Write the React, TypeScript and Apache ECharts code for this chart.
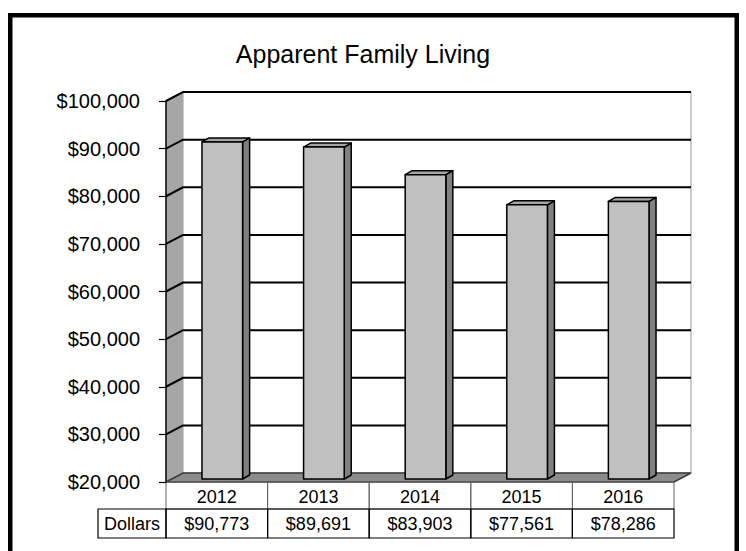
import React, { useEffect, useRef } from "react";
import * as echarts from "echarts";

const title = "Apparent Family Living";
const years = ["2012", "2013", "2014", "2015", "2016"];
const dollars = [90773, 89691, 83903, 77561, 78286];
const rowHeader = "Dollars";
const yMin = 20000;
const yMax = 100000;
const yStep = 10000;

const FONT = "Liberation Sans, Arial, sans-serif";
const fmt = (v: number) => "$" + v.toLocaleString("en-US");

export default function App() {
  const ref = useRef<HTMLDivElement>(null);
  useEffect(() => {
    if (!ref.current) return;
    const chart = echarts.init(ref.current, null, { renderer: "svg" });
    const DX = 17, DY = -9; // wall depth
    const OX = 5.5, OY = -3; // bar front offset
    const BX = 7, BY = -4; // bar depth
    const ROW1 = 27, ROW2 = 29;

    const option: any = {
      animation: false,
      backgroundColor: "#fff",
      grid: { left: 166, right: 72, top: 101, bottom: 69, containLabel: false },
      xAxis: {
        type: "category",
        data: years,
        axisLine: { show: false },
        axisTick: { show: false },
        axisLabel: { show: false },
        splitLine: { show: false },
      },
      yAxis: {
        type: "value",
        min: yMin,
        max: yMax,
        interval: yStep,
        z: 5,
        axisLine: { show: true, lineStyle: { color: "#000", width: 1.5 } },
        axisTick: { show: true, length: 7, lineStyle: { color: "#000", width: 1.2 } },
        axisLabel: {
          formatter: (v: number) => fmt(v),
          fontSize: 20,
          fontFamily: FONT,
          color: "#000",
          margin: 26,
        },
        splitLine: { show: false },
      },
      graphic: [
        {
          type: "rect",
          shape: { x: 10.25, y: 15.25, width: 726.5, height: 560 },
          style: { fill: "none", stroke: "#000", lineWidth: 4.5 },
          z: 10,
        },
        {
          type: "text",
          style: {
            text: title,
            x: 363,
            y: 41,
            textAlign: "center",
            textVerticalAlign: "top",
            fontSize: 25,
            fontFamily: FONT,
            fill: "#000",
          },
        },
      ],
      series: [
        {
          type: "custom",
          name: "walls",
          z: 1,
          clip: false,
          data: [0],
          renderItem: (params: any, api: any) => {
            const cs = params.coordSys;
            const gx = cs.x, gy = cs.y, gw = cs.width, gh = cs.height;
            const children: any[] = [];
            children.push({
              type: "rect",
              shape: { x: gx + DX, y: gy + DY, width: gw, height: gh },
              style: { fill: "#fff", stroke: "#9a9a9a", lineWidth: 1 },
            });
            children.push({
              type: "polygon",
              shape: {
                points: [
                  [gx, gy],
                  [gx + DX, gy + DY],
                  [gx + DX, gy + gh + DY],
                  [gx, gy + gh],
                ],
              },
              style: { fill: "#a6a6a6", stroke: "none" },
            });
            for (let v = yMin + yStep; v <= yMax; v += yStep) {
              const y = api.coord([0, v])[1];
              children.push({
                type: "polyline",
                shape: {
                  points: [
                    [gx, y],
                    [gx + DX, y + DY],
                    [gx + DX + gw, y + DY],
                  ],
                },
                style: { fill: "none", stroke: "#000", lineWidth: 2 },
              });
            }
            children.push({
              type: "polygon",
              shape: {
                points: [
                  [gx, gy + gh],
                  [gx + DX, gy + gh + DY],
                  [gx + gw + DX, gy + gh + DY],
                  [gx + gw, gy + gh],
                ],
              },
              style: { fill: "#8c8c8c", stroke: "#3a3a3a", lineWidth: 1.5 },
            });
            return { type: "group", children };
          },
        },
        {
          type: "custom",
          name: "bars",
          z: 3,
          clip: false,
          data: dollars.map((v, i) => [i, v]),
          encode: { x: 0, y: 1 },
          renderItem: (params: any, api: any) => {
            const i = api.value(0);
            const v = api.value(1);
            const top = api.coord([i, v]);
            const base = api.coord([i, yMin]);
            const w = api.size([1, 0])[0] * 0.4;
            const x0 = top[0] - w / 2 + OX;
            const x1 = x0 + w;
            const yT = top[1] + OY;
            const yB = base[1] + OY;
            const line = { stroke: "#000", lineWidth: 1.5, lineJoin: "round" };
            return {
              type: "group",
              children: [
                {
                  type: "polygon",
                  shape: { points: [[x1, yT], [x1 + BX, yT + BY], [x1 + BX, yB + BY], [x1, yB]] },
                  style: { fill: "#808080", ...line },
                },
                {
                  type: "polygon",
                  shape: { points: [[x0, yT], [x0 + BX, yT + BY], [x1 + BX, yT + BY], [x1, yT]] },
                  style: { fill: "#a6a6a6", ...line },
                },
                {
                  type: "rect",
                  shape: { x: x0, y: yT, width: w, height: yB - yT },
                  style: { fill: "#c0c0c0", ...line },
                },
              ],
            };
          },
        },
        {
          type: "custom",
          name: "table",
          z: 4,
          clip: false,
          data: dollars.map((v, i) => [i, v]),
          encode: { x: 0, y: 1 },
          renderItem: (params: any, api: any) => {
            const cs = params.coordSys;
            const i = api.value(0);
            const v = api.value(1);
            const cx = api.coord([i, yMin])[0];
            const cw = api.size([1, 0])[0];
            const yb = cs.y + cs.height;
            const children: any[] = [
              {
                type: "rect",
                shape: { x: cx - cw / 2, y: yb, width: cw, height: ROW1 },
                style: { fill: "none", stroke: "#666", lineWidth: 1 },
              },
              {
                type: "rect",
                shape: { x: cx - cw / 2, y: yb + ROW1, width: cw, height: ROW2 },
                style: { fill: "none", stroke: "#000", lineWidth: 1.2 },
              },
              {
                type: "text",
                style: {
                  text: years[i],
                  x: cx,
                  y: yb + ROW1 / 2 + 1,
                  textAlign: "center",
                  textVerticalAlign: "middle",
                  fontSize: 18,
                  fontFamily: FONT,
                  fill: "#000",
                },
              },
              {
                type: "text",
                style: {
                  text: fmt(v),
                  x: cx,
                  y: yb + ROW1 + ROW2 / 2,
                  textAlign: "center",
                  textVerticalAlign: "middle",
                  fontSize: 18,
                  fontFamily: FONT,
                  fill: "#000",
                },
              },
            ];
            if (i === 0) {
              children.push({
                type: "rect",
                shape: { x: 98, y: yb + ROW1, width: cs.x - 98, height: ROW2 },
                style: { fill: "none", stroke: "#000", lineWidth: 1.2 },
              });
              children.push({
                type: "text",
                style: {
                  text: rowHeader,
                  x: (98 + cs.x) / 2,
                  y: yb + ROW1 + ROW2 / 2,
                  textAlign: "center",
                  textVerticalAlign: "middle",
                  fontSize: 18,
                  fontFamily: FONT,
                  fill: "#000",
                },
              });
            }
            return { type: "group", children };
          },
        },
      ],
    };
    chart.setOption(option);
    return () => chart.dispose();
  }, []);
  return (
    <div
      ref={ref}
      style={{ position: "absolute", left: 0, top: 0, width: 746, height: 551 }}
    />
  );
}
